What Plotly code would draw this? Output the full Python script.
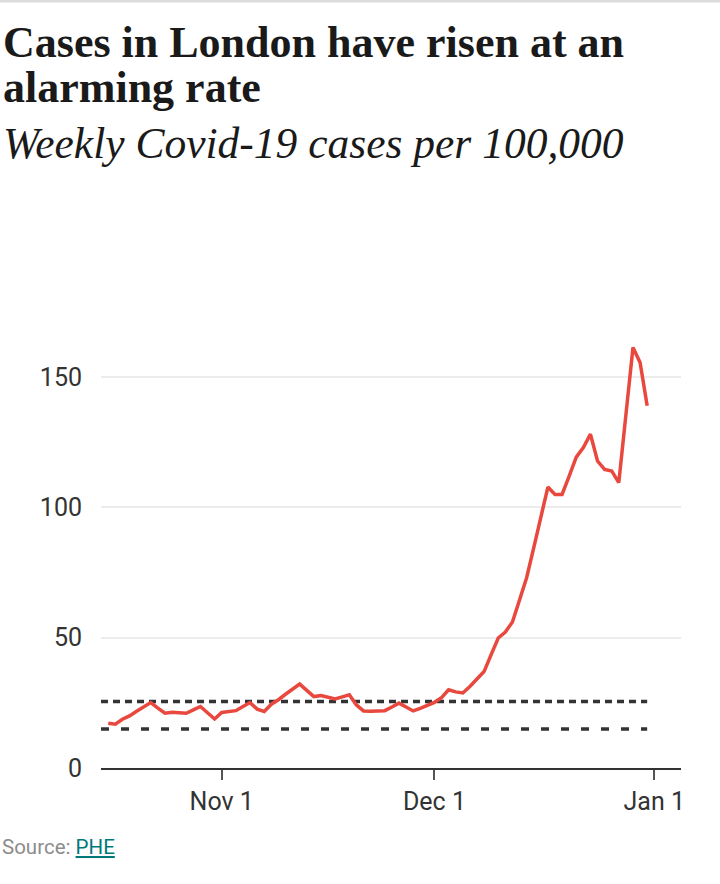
import pandas as pd
import plotly.graph_objects as go

# ---- data ----
dates = pd.date_range("2020-10-16", "2020-12-31", freq="D")
cases = [17.2, 16.8, 18.7, 20.0, 21.8, 23.5, 25.1, 23.0, 21.0, 21.4, 21.2, 21.0, 22.3, 23.6, 21.2, 18.8,
         21.3, 21.6, 22.0, 23.6, 25.1, 22.6, 21.7, 24.5, 26.2, 28.3, 30.3, 32.2, 29.8, 27.4, 27.8,
         27.1, 26.5, 27.3, 28.1, 24.2, 21.9, 21.8, 21.8, 22.0, 23.4, 24.9, 23.4, 21.9, 22.9, 23.9,
         25.2, 27.0, 30.0, 29.2, 28.8, 31.3, 34.0, 37.0, 43.5, 49.9, 52.2, 56.0, 64.5, 73.0, 84.5,
         96.0, 107.8, 105.0, 105.0, 112.0, 119.3, 123.0, 128.1, 117.8, 114.6, 114.0, 109.5, 135.5,
         161.4, 155.6, 139.0]
upper_threshold = 25.5
lower_threshold = 15.0
x_ticks = ["2020-11-01", "2020-12-01", "2021-01-01"]
x_tick_labels = ["Nov 1", "Dec 1", "Jan 1"]
y_ticks = [0, 50, 100, 150]

title_l1 = "Cases in London have risen at an"
title_l2 = "alarming rate"
subtitle = "Weekly Covid-19 cases per 100,000"

# ---- layout geometry ----
W, H = 720, 884
ML, MR, MT, MB = 101, 39, 325, 116
PW, PH = W - ML - MR, H - MT - MB
x_range = ["2020-10-14 23:30", "2021-01-04 18:30"]
y_range = [0, 170]


def px_x(px):
    return (px - ML) / PW


def px_y(py):
    return (H - MB - py) / PH


SANS = "Roboto, sans-serif"
SERIF = "Liberation Serif, DejaVu Serif, serif"

fig = go.Figure()

fig.add_trace(go.Scatter(x=[x_range[0], dates[-1]], y=[upper_threshold] * 2, mode="lines",
                         line=dict(color="#333333", width=3.5, dash="7px,5px"),
                         hoverinfo="skip", showlegend=False))
fig.add_trace(go.Scatter(x=[x_range[0], dates[-1]], y=[lower_threshold] * 2, mode="lines",
                         line=dict(color="#333333", width=3.5, dash="8px,12px"),
                         hoverinfo="skip", showlegend=False))
fig.add_trace(go.Scatter(x=dates, y=cases, mode="lines",
                         line=dict(color="#E8483E", width=3.5),
                         showlegend=False))

annotations = [
    dict(text=title_l1, x=px_x(1), y=px_y(42), xanchor="left", yanchor="middle",
         font=dict(family=SERIF, size=44, color="#1a1a1a", weight="bold")),
    dict(text=title_l2, x=px_x(1), y=px_y(88), xanchor="left", yanchor="middle",
         font=dict(family=SERIF, size=44, color="#1a1a1a", weight="bold")),
    dict(text="<i>" + subtitle + "</i>", x=px_x(1), y=px_y(143), xanchor="left", yanchor="middle",
         font=dict(family=SERIF, size=43.5, color="#1a1a1a")),
    dict(text="Source: <span style='color:#00797B;text-decoration:underline'>PHE</span>",
         x=px_x(0), y=px_y(847), xanchor="left", yanchor="middle",
         font=dict(family=SANS, size=20.5, color="#8c8c8c")),
]
for a in annotations:
    a.update(xref="paper", yref="paper", showarrow=False, align="left")

fig.update_layout(
    width=W, height=H,
    margin=dict(l=ML, r=MR, t=MT, b=MB),
    paper_bgcolor="white", plot_bgcolor="white",
    annotations=annotations,
    shapes=[dict(type="rect", xref="paper", yref="paper", x0=px_x(0), x1=px_x(W),
                 y0=px_y(2.5), y1=px_y(0), fillcolor="#dcdcdc", line=dict(width=0), layer="above")],
    xaxis=dict(type="date", range=x_range, tickvals=x_ticks, ticktext=x_tick_labels,
               showgrid=False, showline=True, linecolor="#333333", linewidth=2,
               ticks="outside", ticklen=10, tickwidth=1.5, tickcolor="#555555",
               tickfont=dict(family=SANS, size=25, color="#333333"), zeroline=False,
               fixedrange=True),
    yaxis=dict(range=y_range, tickvals=y_ticks, showgrid=True, gridcolor="#ececec", gridwidth=2,
               zeroline=False, showline=False, ticks="", ticklabelstandoff=18,
               tickfont=dict(family=SANS, size=25, color="#333333"), fixedrange=True),
)

fig.write_html("out.html", config={"displayModeBar": False},
               post_script="document.body.style.margin='0';")
